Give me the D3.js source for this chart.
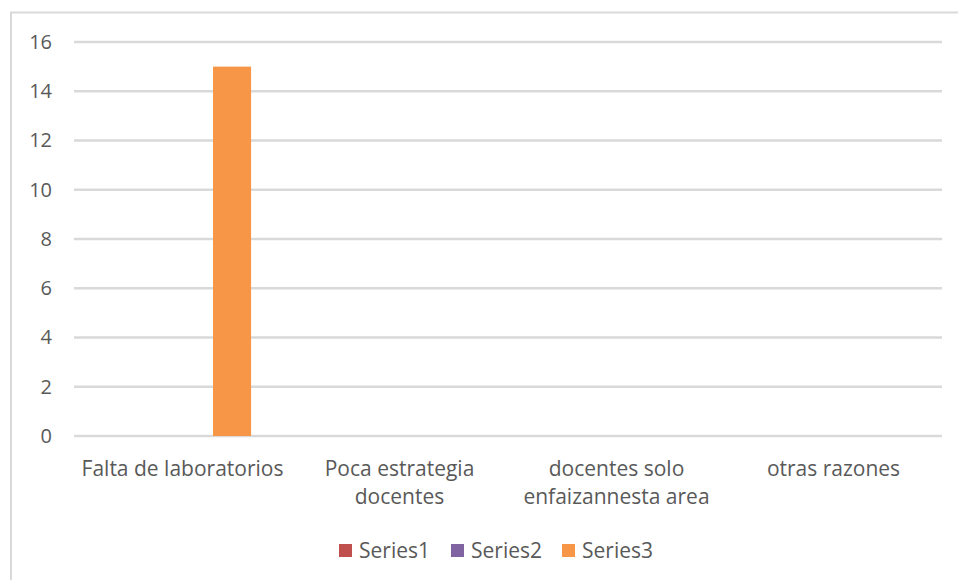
<!DOCTYPE html>
<html>
<head>
<meta charset="utf-8">
<script src="https://cdn.jsdelivr.net/npm/d3@7"></script>
<style>
  body { margin: 0; background: #fff; }
  svg { display: block; font-family: 'Open Sans', sans-serif; }
</style>
</head>
<body>
<svg id="chart" width="958" height="580"></svg>
<script>
// data
let categories = [
  ['Falta de laboratorios'],
  ['Poca estrategia', 'docentes'],
  ['docentes solo', 'enfaizannesta area'],
  ['otras razones']
];
let seriesNames = ['Series1', 'Series2', 'Series3'];
let series1 = [0, 0, 0, 0];
let series2 = [0, 0, 0, 0];
let series3 = [15, 0, 0, 0];
let yTicks = [0, 2, 4, 6, 8, 10, 12, 14, 16];

let seriesValues = [series1, series2, series3];
let colors = ['#c0504d', '#8064a2', '#f79646'];

let margin = {top: 42, right: 16, bottom: 142, left: 74},
  width = 958 - margin.left - margin.right,
  height = 580 - margin.top - margin.bottom;

let svg = d3.select('#chart');

// chart frame (top and left edges, the rest is cropped)
svg.append('path')
  .attr('d', 'M11,580 V12.5 H958')
  .attr('fill', 'none')
  .attr('stroke', '#d9d9d9')
  .attr('stroke-width', 2);

let g = svg.append('g')
  .attr('transform', 'translate(' + margin.left + ',' + margin.top + ')');

let catKeys = categories.map((d) => d.join(' '));

let x0 = d3.scaleBand()
  .domain(catKeys)
  .range([0, width]);

let yScale = d3.scaleLinear()
  .domain([0, 16])
  .range([height - 2, 0]);

// inner scale for the series within a category
let bw = x0.bandwidth();
let x1 = d3.scaleBand()
  .domain(seriesNames)
  .range([bw / 2 - 0.316 * bw, bw / 2 + 0.316 * bw])
  .paddingInner(0.232);

// gridlines
g.append('g')
  .attr('class', 'grid')
  .selectAll('line')
  .data(yTicks)
  .enter()
  .append('line')
  .attr('x1', 0)
  .attr('x2', width)
  .attr('y1', (d) => yScale(d))
  .attr('y2', (d) => yScale(d))
  .attr('stroke', '#d9d9d9')
  .attr('stroke-width', 2.5);

// y axis labels
let yAxis = g.append('g')
  .call(d3.axisLeft(yScale).tickValues(yTicks).tickSize(0).tickPadding(22));
yAxis.select('.domain').remove();
yAxis.selectAll('text')
  .attr('fill', '#595959')
  .style('font-size', '20px')
  .style('font-family', "'Open Sans', sans-serif");

// bars
let groups = g.selectAll('.cat')
  .data(catKeys)
  .enter()
  .append('g')
  .attr('class', 'cat')
  .attr('transform', (d) => 'translate(' + x0(d) + ',0)');

groups.selectAll('rect')
  .data((d, i) => seriesNames.map((s, j) => ({series: s, value: seriesValues[j][i], color: colors[j]})))
  .enter()
  .append('rect')
  .attr('x', (d) => x1(d.series))
  .attr('width', x1.bandwidth())
  .attr('y', (d) => yScale(d.value))
  .attr('height', (d) => yScale(0) - yScale(d.value))
  .attr('fill', (d) => d.color);

// category labels
let xAxis = g.append('g')
  .attr('transform', 'translate(0,' + yScale(0) + ')')
  .call(d3.axisBottom(x0).tickSize(0).tickFormat(''));
xAxis.select('.domain').remove();

xAxis.selectAll('.tick')
  .append('text')
  .attr('fill', '#595959')
  .attr('text-anchor', 'middle')
  .style('font-size', '21px')
  .style('font-family', "'Open Sans', sans-serif")
  .each(function (d, i) {
    let t = d3.select(this);
    categories[i].forEach((line, k) => {
      t.append('tspan')
        .attr('x', 0)
        .attr('y', 40 + k * 28)
        .text(line);
    });
  });

// legend
let legend = svg.append('g')
  .attr('transform', 'translate(339,551)');

let legendX = [0, 112, 223];
let items = legend.selectAll('.item')
  .data(seriesNames)
  .enter()
  .append('g')
  .attr('class', 'item')
  .attr('transform', (d, i) => 'translate(' + legendX[i] + ',0)');

items.append('rect')
  .attr('x', 0)
  .attr('y', -7)
  .attr('width', 13)
  .attr('height', 13)
  .attr('fill', (d, i) => colors[i]);

items.append('text')
  .attr('x', 20)
  .attr('y', 7)
  .attr('fill', '#595959')
  .style('font-size', '21px')
  .text((d) => d);
</script>
</body>
</html>
